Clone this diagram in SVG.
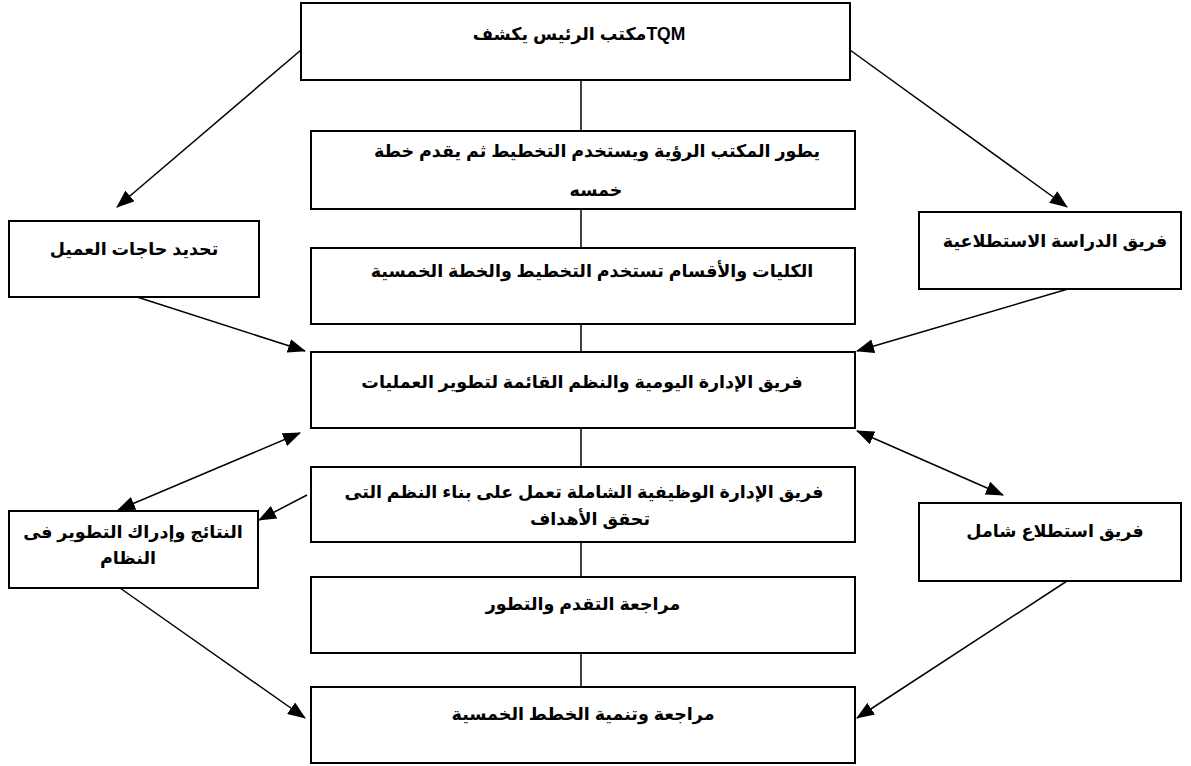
<svg xmlns="http://www.w3.org/2000/svg" width="1191" height="766" viewBox="0 0 1191 766">
<style>
.box{fill:#fff;stroke:#000;stroke-width:2}
.t{font-family:"Liberation Sans","DejaVu Sans",sans-serif;font-weight:bold;font-size:17.5px;fill:#000;text-anchor:middle;direction:rtl}
.c{stroke:#000;stroke-width:1.5;fill:none}
.a{marker-end:url(#ah)}
.d{marker-end:url(#ah);marker-start:url(#ah)}
</style>
<defs>
<marker id="ah" markerUnits="userSpaceOnUse" markerWidth="18" markerHeight="14" refX="17" refY="7" orient="auto-start-reverse">
<path d="M0,0 L18,7 L0,14 z" fill="#000"/>
</marker>
</defs>
<rect width="1191" height="766" fill="#fff"/>
<g id="connectors">
<line class="c" x1="581" y1="80" x2="581" y2="131"/>
<line class="c" x1="581" y1="209" x2="581" y2="248"/>
<line class="c" x1="581" y1="324" x2="581" y2="352"/>
<line class="c" x1="581" y1="428" x2="581" y2="467"/>
<line class="c" x1="581" y1="542" x2="581" y2="577"/>
<line class="c" x1="581" y1="653" x2="581" y2="687"/>
<line class="c a" x1="301" y1="50" x2="117" y2="207"/>
<line class="c a" x1="850" y1="50" x2="1067" y2="207"/>
<line class="c a" x1="137" y1="297" x2="305" y2="351"/>
<line class="c a" x1="1068" y1="289" x2="857" y2="351"/>
<line class="c d" x1="300" y1="433" x2="118" y2="510"/>
<line class="c d" x1="857" y1="431" x2="1003" y2="495"/>
<line class="c a" x1="307" y1="495" x2="259" y2="520"/>
<line class="c a" x1="120" y1="588" x2="305" y2="718"/>
<line class="c a" x1="1067" y1="581" x2="857" y2="718"/>
</g>
<g id="n-top"><rect class="box" x="301" y="3" width="549" height="77"/><text class="t" x="579" y="40">TQMمكتب الرئيس يكشف</text></g>
<g id="n-vision"><rect class="box" x="311" y="131" width="544" height="78"/><text class="t" x="597" y="157">يطور المكتب الرؤية ويستخدم التخطيط ثم يقدم خطة</text><text class="t" x="596" y="196">خمسه</text></g>
<g id="n-colleges"><rect class="box" x="311" y="248" width="544" height="76"/><text class="t" x="592" y="277">الكليات والأقسام تستخدم التخطيط والخطة الخمسية</text></g>
<g id="n-daily"><rect class="box" x="311" y="352" width="544" height="76"/><text class="t" x="582" y="388">فريق الإدارة اليومية والنظم القائمة لتطوير العمليات</text></g>
<g id="n-functional"><rect class="box" x="311" y="467" width="544" height="75"/><text class="t" x="584" y="498">فريق الإدارة الوظيفية الشاملة تعمل على بناء النظم التى</text><text class="t" x="590" y="525">تحقق الأهداف</text></g>
<g id="n-progress"><rect class="box" x="311" y="577" width="544" height="76"/><text class="t" x="583" y="610">مراجعة التقدم والتطور</text></g>
<g id="n-plans"><rect class="box" x="311" y="687" width="544" height="76"/><text class="t" x="583" y="720">مراجعة وتنمية الخطط الخمسية</text></g>
<g id="n-customer"><rect class="box" x="9" y="221" width="250" height="76"/><text class="t" x="134" y="255">تحديد حاجات العميل</text></g>
<g id="n-results"><rect class="box" x="9" y="511" width="249" height="77"/><text class="t" x="133" y="538">النتائج وإدراك التطوير فى</text><text class="t" x="128" y="564">النظام</text></g>
<g id="n-pilot"><rect class="box" x="919" y="212" width="262" height="77"/><text class="t" x="1055" y="247">فريق الدراسة الاستطلاعية</text></g>
<g id="n-survey"><rect class="box" x="919" y="503" width="262" height="78"/><text class="t" x="1055" y="537">فريق استطلاع شامل</text></g>
</svg>
